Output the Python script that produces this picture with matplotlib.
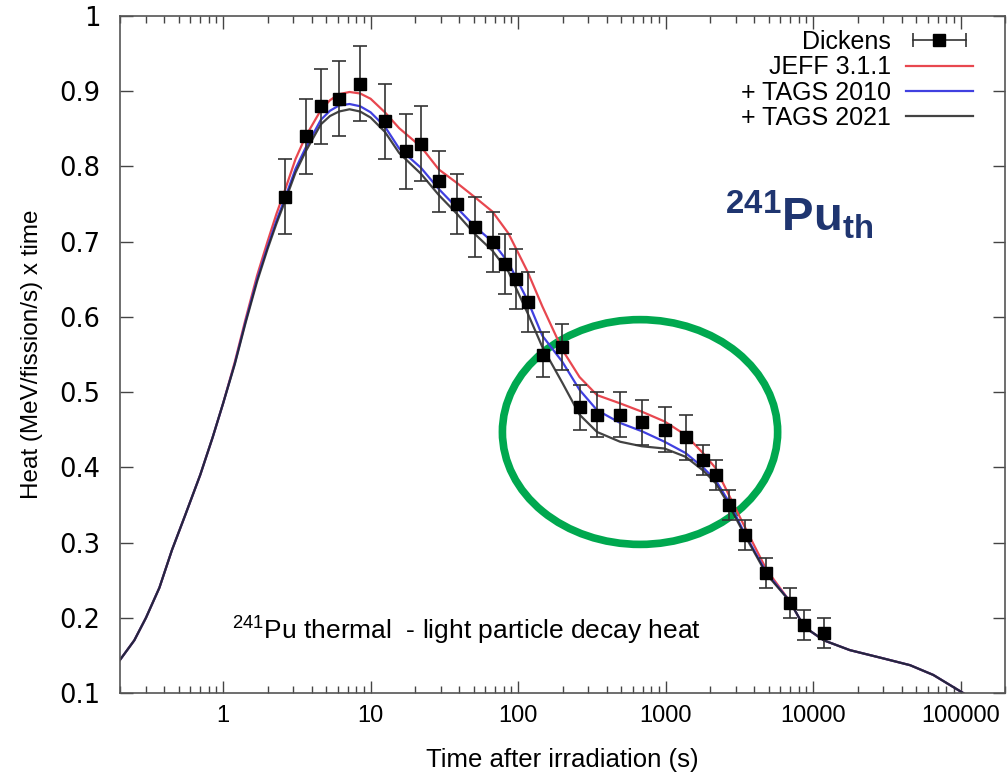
import numpy as np
import matplotlib
matplotlib.use("Agg")
import matplotlib.pyplot as plt
from matplotlib.lines import Line2D
from matplotlib.patches import Ellipse
from matplotlib.legend_handler import HandlerLine2D

plt.rcParams['font.family'] = ['Liberation Sans', 'DejaVu Sans']
plt.rcParams['mathtext.fontset'] = 'custom'
plt.rcParams['mathtext.rm'] = 'Liberation Sans'
plt.rcParams['mathtext.it'] = 'Liberation Sans:italic'
plt.rcParams['mathtext.bf'] = 'Liberation Sans:bold'
plt.rcParams['mathtext.default'] = 'regular'

# Dickens measurement (time in s, heat x time, error)
t_dickens = [2.62, 3.63, 4.61, 6.1, 8.52, 12.5, 17.5, 22.1,
             29.2, 38.5, 51.2, 67.1, 81.9, 96.8, 116,
             148, 199, 261, 344, 492, 690, 984, 1367,
             1791, 2183, 2690, 3437, 4830, 6950, 8690, 11820]
heat_dickens = [0.76, 0.84, 0.88, 0.89, 0.91, 0.86, 0.82, 0.83,
                0.78, 0.75, 0.72, 0.70, 0.67, 0.65, 0.62,
                0.55, 0.56, 0.48, 0.47, 0.47, 0.46, 0.45, 0.44,
                0.41, 0.39, 0.35, 0.31, 0.26, 0.22, 0.19, 0.18]
err_dickens = [0.05] * 8 + [0.04] * 7 + [0.03] * 8 + [0.02] * 8

# calculated curves
t_calc = [0.2, 0.25, 0.3, 0.37, 0.45, 0.55, 0.7, 0.85, 1.0, 1.2, 1.42, 1.7, 2.0, 2.3, 2.62,
          3.1, 3.63, 4.6, 5.3, 6.1, 7.2, 8.5, 10, 12.5, 15.6, 22, 29, 38.5, 51, 67, 86,
          116, 146, 200, 261, 343, 492, 690, 984, 1367, 1791, 2183, 2690, 3437, 4830,
          6950, 8690, 11820, 17750, 29900, 45400, 65300, 104000, 120000]
heat_jeff = [0.144, 0.17, 0.2, 0.24, 0.29, 0.335, 0.39, 0.44, 0.485, 0.54, 0.597, 0.655, 0.70, 0.737, 0.768,
             0.81, 0.84, 0.875, 0.888, 0.896, 0.899, 0.897, 0.89, 0.872, 0.851, 0.826, 0.796, 0.778, 0.759,
             0.74, 0.711, 0.66, 0.614, 0.556, 0.52, 0.496, 0.485, 0.474, 0.461, 0.443, 0.419, 0.399, 0.363,
             0.321, 0.264, 0.222, 0.188, 0.17, 0.157, 0.146, 0.137, 0.124, 0.10, 0.09]
heat_tags2010 = [0.144, 0.17, 0.2, 0.24, 0.29, 0.335, 0.39, 0.44, 0.485, 0.538, 0.594, 0.65, 0.693, 0.728, 0.757,
                 0.797, 0.825, 0.862, 0.874, 0.881, 0.883, 0.88, 0.872, 0.853, 0.824, 0.798, 0.77, 0.745, 0.72,
                 0.70, 0.672, 0.622, 0.575, 0.54, 0.503, 0.476, 0.459, 0.448, 0.434, 0.419, 0.40, 0.383, 0.354,
                 0.312, 0.26, 0.222, 0.188, 0.17, 0.157, 0.146, 0.137, 0.124, 0.10, 0.09]
heat_tags2021 = [0.144, 0.17, 0.2, 0.24, 0.29, 0.335, 0.39, 0.44, 0.485, 0.537, 0.592, 0.647, 0.69, 0.724, 0.753,
                 0.792, 0.82, 0.856, 0.867, 0.873, 0.876, 0.873, 0.865, 0.846, 0.818, 0.79, 0.762, 0.737, 0.71,
                 0.688, 0.66, 0.605, 0.56, 0.512, 0.47, 0.447, 0.434, 0.428, 0.425, 0.414, 0.396, 0.379, 0.35,
                 0.31, 0.258, 0.222, 0.188, 0.17, 0.157, 0.146, 0.137, 0.124, 0.10, 0.09]

y_ticks = [0.1, 0.2, 0.3, 0.4, 0.5, 0.6, 0.7, 0.8, 0.9, 1.0]
x_ticks = [1, 10, 100, 1000, 10000, 100000]

fig = plt.figure(figsize=(10.07, 7.74), dpi=100)
ax = fig.add_axes([120 / 1007, 1 - 693 / 774, 885 / 1007, 677 / 774])

# curves
ax.plot(t_calc, heat_jeff, color='#e8474f', lw=1.6, label='JEFF 3.1.1')
ax.plot(t_calc, heat_tags2010, color='#4040e0', lw=1.6, label='+ TAGS 2010')
ax.plot(t_calc, heat_tags2021, color='#222222', lw=1.6, alpha=0.85, label='+ TAGS 2021')

# measured points
ax.errorbar(t_dickens, heat_dickens, yerr=err_dickens, fmt='s', color='black',
            ecolor='#333333', elinewidth=1.2, capsize=5, capthick=1.2, markersize=8)

ax.set_xscale('log')
ax.set_xlim(0.2, 2e5)
ax.set_ylim(0.1, 1.0)
ax.set_xticks(x_ticks)
ax.set_xticklabels([str(v) for v in x_ticks], fontsize=17)
ax.set_yticks(y_ticks)
ax.set_yticklabels(['%g' % v for v in y_ticks], fontsize=18.5, family='DejaVu Sans')
ax.tick_params(which='both', direction='in', top=True, right=True, color='#444444', width=1)
ax.tick_params(which='major', length=9)
ax.tick_params(which='minor', length=5)
ax.tick_params(axis='x', pad=9)
ax.tick_params(axis='y', pad=14)
for s in ax.spines.values():
    s.set_color('#555555')
    s.set_linewidth(1.2)

ax.set_xlabel('Time after irradiation (s)', fontsize=18.5, labelpad=15)
ax.set_ylabel('Heat (MeV/fission/s) x time', fontsize=17.5, labelpad=12)

# legend, gnuplot style (text right aligned, sample on the right)
cap_line = Line2D([], [], color='#333333', lw=1.2, marker='|', markersize=10, markeredgewidth=1.2)
sq = Line2D([], [], color='black', marker='s', markersize=8, linestyle='none')
handles = [(cap_line, sq)] + ax.get_lines()[:3]
labels = ['Dickens', 'JEFF 3.1.1', '+ TAGS 2010', '+ TAGS 2021']
ax.legend(handles, labels, loc='upper right', bbox_to_anchor=(0.964, 0.979), frameon=False,
          markerfirst=False, fontsize=18, handlelength=2.7, handletextpad=0.6,
          labelspacing=0.05, borderpad=0, borderaxespad=0,
          handler_map={cap_line: HandlerLine2D(numpoints=2), sq: HandlerLine2D(numpoints=1)})

ax.text(0.127, 0.092, r'$^{241}$Pu thermal  - light particle decay heat', transform=ax.transAxes,
        fontsize=19, va='center')
ax.text(0.684, 0.706, r'$\mathbf{^{241}}$Pu$\mathbf{_{th}}$', transform=ax.transAxes,
        fontsize=34, fontweight='bold', color='#1f3570', va='center')

# green highlight ellipse
ax.add_patch(Ellipse((0.5876, 0.3855), 0.311, 0.332, transform=ax.transAxes,
                     fill=False, edgecolor='#00a84f', lw=5.5, clip_on=False))

fig.savefig('out.png', dpi=100)
